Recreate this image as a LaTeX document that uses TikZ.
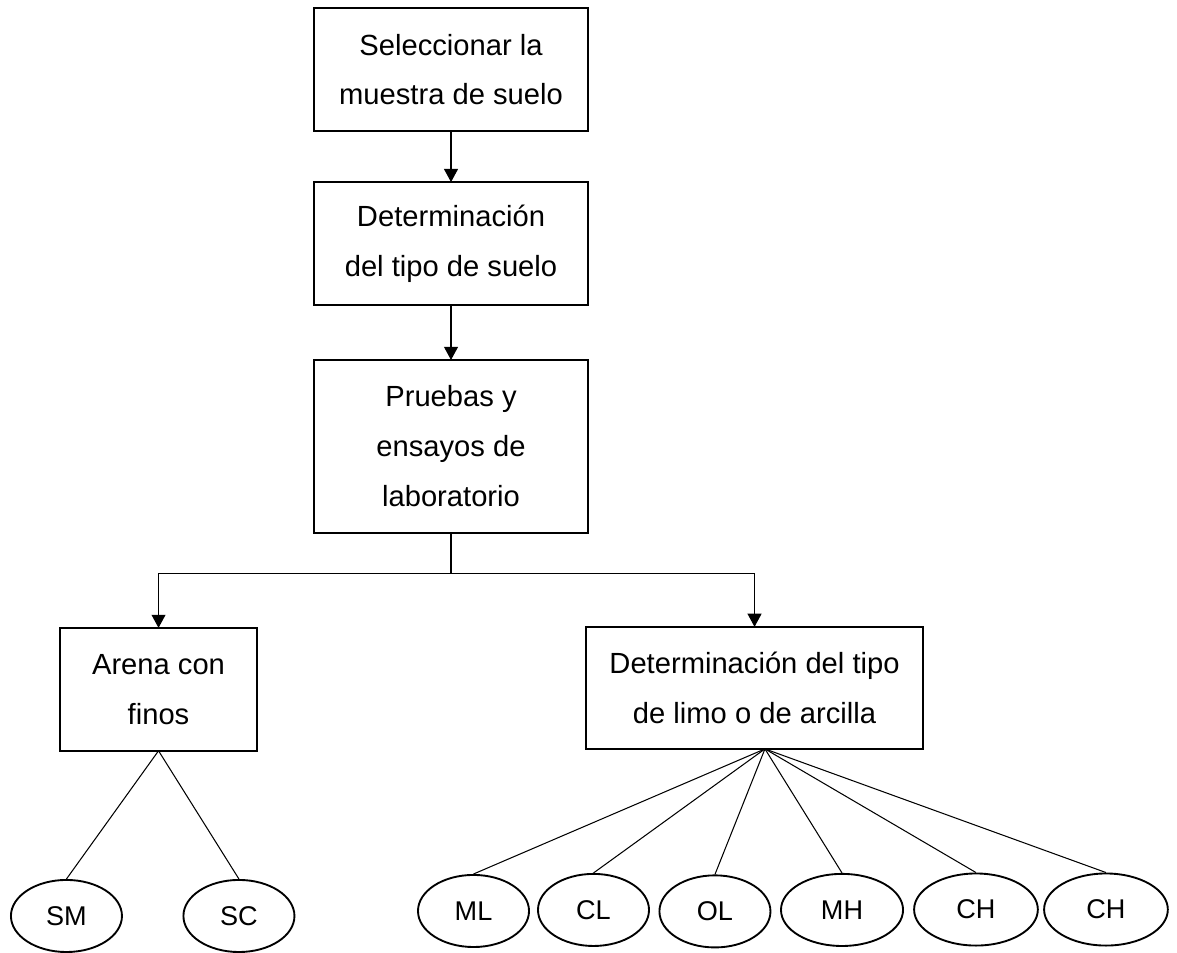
\documentclass[tikz,border=0pt]{standalone}
\usepackage{fontspec}
\setmainfont{Liberation Sans}
\usetikzlibrary{positioning}
\usetikzlibrary{shapes}
\usetikzlibrary{arrows.meta}

\begin{document}
\begin{tikzpicture}[
        % Define a standard style for the process boxes
        box/.style={draw, line width=0.9pt, align=center,
        font=\fontsize{14}{24}\selectfont,
        minimum width=131.5pt, minimum height=59pt,
        inner sep=2pt, outer sep=0pt},
        % Style for the soil class ellipses
        soil/.style={draw, ellipse, line width=0.9pt, inner sep=0pt,
        font=\fontsize{13}{15}\selectfont,
        minimum width=53.3pt, minimum height=34.6pt},
        % Plain and arrowed connectors
        link/.style={line width=0.5pt},
        flow/.style={line width=0.5pt, -{Triangle[width=6.7pt, length=6.3pt]}}
    ]
    \useasboundingbox (0,0) rectangle (565pt,-457.4pt);

    % --- Main column ---
    % 1. Sample selection
    \node[box] (sel) at (216.5pt,-33.4pt) {Seleccionar la\\muestra de suelo};

    % 2. Soil type (placed below the first box)
    \node[box, anchor=north, yshift=-24.5pt] (tsuelo) at (sel.south)
        {Determinación\\del tipo de suelo};

    % 3. Laboratory tests
    \node[box, anchor=north, yshift=-26.4pt, minimum height=83pt] (lab) at (tsuelo.south)
        {Pruebas y\\ensayos de\\laboratorio};

    % --- Row 2: the two branches ---
    \node[box, anchor=north, xshift=-140.4pt, yshift=-45.6pt, minimum width=94.6pt] (arena)
        at (lab.south) {Arena con\\finos};
    \node[box, anchor=north, xshift=145.7pt, yshift=-45.1pt, minimum width=161.8pt,
        minimum height=58.6pt] (limo) at (lab.south) {Determinación del tipo\\de limo o de arcilla};

    % --- Row 3: soil classes ---
    \node[soil] (sm) at (31.9pt,-439.7pt) {SM};
    \node[soil] (sc) at (114.7pt,-439.7pt) {SC};

    \node[soil] (ml) at (227.3pt,-437.3pt) {ML};
    \node[soil] (cl) at (284.9pt,-436.8pt) {CL};
    \node[soil] (ol) at (343.2pt,-437.5pt) {OL};
    \node[soil, minimum width=58.6pt] (mh) at (404.2pt,-436.8pt) {MH};
    \node[soil, minimum width=59.4pt] (cha) at (468.5pt,-436.6pt) {CH};
    \node[soil, minimum width=59.4pt] (chb) at (530.9pt,-436.6pt) {CH};

    % --- Connectors ---
    \draw[flow] (sel) -- (tsuelo);
    \draw[flow] (tsuelo) -- (lab);

    \coordinate[below=19.7pt of lab] (split);
    \draw[link] (lab) -- (split);
    \draw[flow] (split) -| (arena);
    \draw[flow] (split) -| (limo);

    \draw[link] (arena.south) -- (sm.north);
    \draw[link] (arena.south) -- (sc.north);

    % fan from a point a little right of the box centre
    \draw[link] ([xshift=5pt]limo.south) -- (ml.north);
    \draw[link] ([xshift=5pt]limo.south) -- (cl.north);
    \draw[link] ([xshift=5pt]limo.south) -- (ol.north);
    \draw[link] ([xshift=5pt]limo.south) -- (mh.north);
    \draw[link] ([xshift=5pt]limo.south) -- (cha.north);
    \draw[link] ([xshift=5pt]limo.south) -- (chb.north);

\end{tikzpicture}
\end{document}
